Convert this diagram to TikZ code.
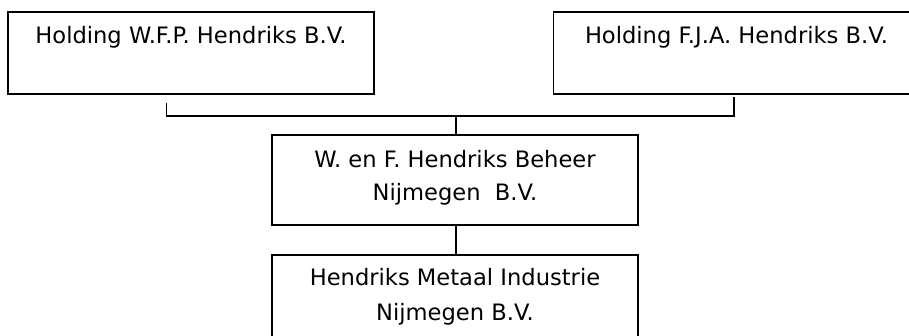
\documentclass[tikz,border=0pt]{standalone}
\usepackage{fontspec}
\setmainfont{DejaVu Sans}
\usetikzlibrary{calc}
\begin{document}
\begin{tikzpicture}[x=1pt,y=1pt,
  box/.style={draw=black, line width=1.6pt, rectangle, inner sep=0pt, minimum width=366pt},
  lbl/.style={font=\fontsize{22.6}{34}\selectfont, inner sep=0pt, anchor=base, align=center},
  conn/.style={draw=black, line width=1.4pt}]
\clip (0,0) rectangle (909,-336);
\fill[white] (0,0) rectangle (909,-336);
% boxes
\node[box, minimum height=82pt] (b1) at (191,-53) {};
\node[box, minimum height=82pt] (b2) at (736.5,-53) {};
\node[box, minimum height=90pt] (mid) at (455,-180) {};
\node[box, minimum height=90pt] (bot) at (455,-300) {};
% texts
\node[lbl] (t1) at ($(b1.north)+(0,-32)$) {Holding W.F.P. Hendriks B.V.};
\node[lbl] (t2) at ($(b2.north)+(0,-32)$) {Holding F.J.A. Hendriks B.V.};
\node[lbl] (t3) at ($(mid.north)+(0,-66.7)$) {W. en F. Hendriks Beheer\\[-0.6pt]Nijmegen\ \ B.V.};
\node[lbl] (t4) at ($(bot.north)+(0,-66.7)$) {Hendriks Metaal Industrie\\[1pt]Nijmegen B.V.};
% connectors
\coordinate (a1) at (166.5,-103);
\coordinate (a2) at (734,-97.5);
\coordinate (j) at (456,-116);
\draw[conn] (a1) |- (j) -| (a2);
\draw[conn] (j) -- (j |- mid.north);
\draw[conn] (mid.south -| j) -- (bot.north -| j);
\end{tikzpicture}
\end{document}
